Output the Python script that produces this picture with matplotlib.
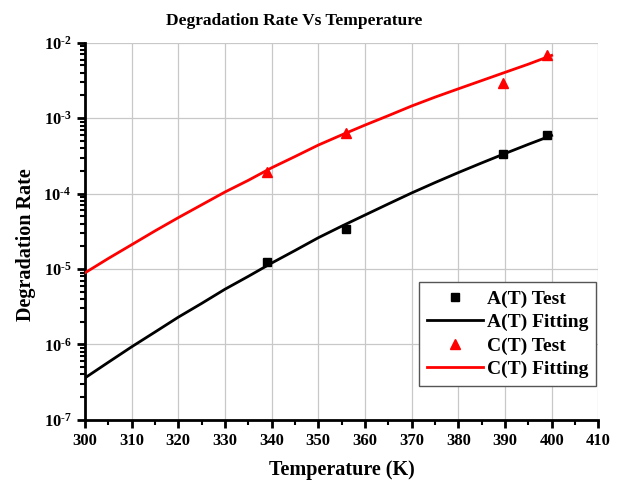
import numpy as np
import matplotlib
matplotlib.use("Agg")
import matplotlib.pyplot as plt
from matplotlib.ticker import LogLocator, MultipleLocator, NullFormatter, FuncFormatter

# ---- data ----
test_temp = [339, 356, 389.5, 399]
a_test = [1.25e-5, 3.4e-5, 3.4e-4, 5.9e-4]
c_test = [1.95e-4, 6.4e-4, 2.95e-3, 6.9e-3]

fit_temp = [300, 305, 310, 315, 320, 325, 330, 335, 340, 345, 350,
            355, 360, 365, 370, 375, 380, 385, 390, 395, 400]
a_fit = [3.6e-7, 5.8e-7, 9.3e-7, 1.46e-6, 2.3e-6, 3.5e-6, 5.4e-6, 8.0e-6, 1.2e-5, 1.76e-5, 2.6e-5,
         3.7e-5, 5.2e-5, 7.3e-5, 1.02e-4, 1.4e-4, 1.9e-4, 2.55e-4, 3.4e-4, 4.5e-4, 5.9e-4]
c_fit = [8.9e-6, 1.38e-5, 2.1e-5, 3.2e-5, 4.8e-5, 7.1e-5, 1.05e-4, 1.5e-4, 2.2e-4, 3.1e-4, 4.4e-4,
         6.0e-4, 8.1e-4, 1.08e-3, 1.45e-3, 1.9e-3, 2.45e-3, 3.15e-3, 4.05e-3, 5.2e-3, 6.8e-3]

plt.rcParams['font.family'] = ['Liberation Serif', 'DejaVu Serif']
plt.rcParams['font.weight'] = 'bold'
plt.rcParams['mathtext.fontset'] = 'custom'
plt.rcParams['mathtext.rm'] = 'Liberation Serif:bold'
plt.rcParams['mathtext.bf'] = 'Liberation Serif:bold'
plt.rcParams['mathtext.default'] = 'bf'

fig = plt.figure(figsize=(6.2, 4.86), dpi=100)
ax = fig.add_axes([0.137, 0.136, 0.828, 0.776])

ax.plot(test_temp, a_test, 's', color='black', ms=6, label='A(T) Test', zorder=4)
ax.plot(fit_temp, a_fit, '-', color='black', lw=2, label='A(T) Fitting', zorder=3)
ax.plot(test_temp, c_test, '^', color='red', ms=7, label='C(T) Test', zorder=4)
ax.plot(fit_temp, c_fit, '-', color='red', lw=2, label='C(T) Fitting', zorder=3)

ax.set_yscale('log')
ax.set_xlim(300, 410)
ax.set_ylim(1e-7, 1e-2)
ax.xaxis.set_major_locator(MultipleLocator(10))
ax.xaxis.set_minor_locator(MultipleLocator(5))
ax.yaxis.set_major_locator(LogLocator(base=10, numticks=10))
ax.yaxis.set_minor_locator(LogLocator(base=10, subs=np.arange(2, 10), numticks=20))
ax.yaxis.set_minor_formatter(NullFormatter())
ax.yaxis.set_major_formatter(FuncFormatter(lambda v, p: r'$10^{\text{-}%d}$' % round(-np.log10(v))))

for s in ['top', 'right']:
    ax.spines[s].set_visible(False)
for s in ['left', 'bottom']:
    ax.spines[s].set_linewidth(2)

ax.tick_params(which='major', direction='out', length=6, width=2, labelsize=12)
ax.tick_params(which='minor', direction='out', length=3.5, width=1.5)

ax.grid(True, which='major', color='#c8c8c8', lw=0.9)
ax.set_axisbelow(True)

ax.set_title('Degradation Rate Vs Temperature', fontsize=12.5, fontweight='bold',
             x=0.407, pad=13)
ax.set_xlabel('Temperature (K)', fontsize=14.5, fontweight='bold', labelpad=8)
ax.set_ylabel('Degradation Rate', fontsize=14.5, fontweight='bold', labelpad=6)
ax.yaxis.set_label_coords(-0.095, 0.464)

leg = ax.legend(loc='lower right', bbox_to_anchor=(0.996, 0.09), fontsize=14,
                fancybox=False, edgecolor='#555555', framealpha=1, borderaxespad=0,
                handlelength=2.9, handletextpad=0.2, borderpad=0.4, labelspacing=0.3)
leg.get_frame().set_linewidth(1)

fig.savefig('out.png', dpi=100)
